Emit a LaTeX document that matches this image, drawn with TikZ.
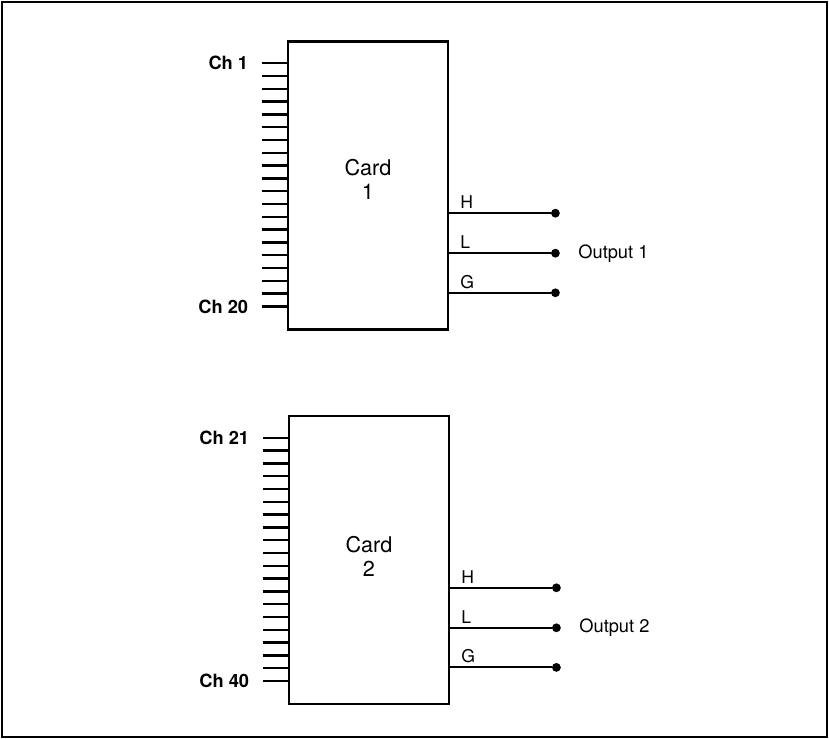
\documentclass[tikz,border=0pt]{standalone}
\usepackage{fontspec}
\setmainfont{TeX Gyre Heros}
\usetikzlibrary{positioning,calc}

\begin{document}
\begin{tikzpicture}[
  card/.style={draw, line width=2pt, minimum width=4cm, minimum height=7.2cm, inner sep=0pt},
  cardtext/.style={align=center, inner sep=0pt, font=\fontsize{15.4}{16.4}\selectfont},
  pin/.style={line width=1.6pt},
  wire/.style={line width=1.4pt},
  term/.style={circle, fill, minimum size=0.22cm, inner sep=0pt},
  chlabel/.style={inner sep=0pt, font=\fontsize{13}{15}\selectfont\bfseries},
  leadlabel/.style={anchor=south west, inner sep=0pt, font=\fontsize{12.5}{14}\selectfont},
  outlabel/.style={inner sep=0pt, font=\fontsize{13}{15}\selectfont}
]
  \useasboundingbox (0,0) rectangle (20.725,18.475);
  % Frame
  \draw[line width=1.6pt] (0.05,0.05) rectangle (20.675,18.425);

  % Cards
  \node[card] (card1) at (9.2, 13.84) {};
  \node[card] (card2) at (9.225, 4.475) {};
  \node[cardtext] (card1text) at ($(card1.center)+(0,0.15)$) {Card\\1};
  \node[cardtext] (card2text) at ($(card2.center)+(0,0.09)$) {Card\\2};

  % Channel inputs, 20 per card
  \foreach \k in {1,2} {
    \foreach \i in {1,...,20} {
      \coordinate (c\k in\i) at ($(card\k.north west)+(0,{-0.26-0.32*\i})$);
      \coordinate (c\k pin\i) at ($(c\k in\i)+(-0.625,0)$);
      \draw[pin] (c\k pin\i) -- (c\k in\i);
    }
  }
  \node[chlabel, left=0.33cm of c1pin1] (ch1) {Ch 1};
  \node[chlabel, left=0.33cm of c1pin20] (ch20) {Ch 20};
  \node[chlabel, left=0.33cm of c2pin1] (ch21) {Ch 21};
  \node[chlabel, left=0.33cm of c2pin20] (ch40) {Ch 40};

  % Outputs H, L, G
  \foreach \k in {1,2} {
    \foreach \lead/\dy in {H/4.33, L/5.33, G/6.32} {
      \coordinate (card\k\lead) at ($(card\k.north east)+(0,-\dy)$);
      \node[term] (term\k\lead) at ($(card\k\lead)+(2.65,0)$) {};
      \draw[wire] (card\k\lead) -- (term\k\lead);
      \node[leadlabel] (lbl\k\lead) at ($(card\k\lead)+(0.27,0.1)$) {\lead};
    }
    \node[outlabel, right=0.45cm of term\k L] (out\k) {Output \k};
  }
\end{tikzpicture}
\end{document}
